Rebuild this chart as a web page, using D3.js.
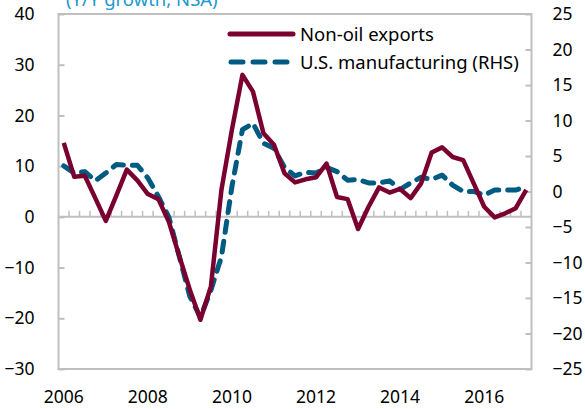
<!DOCTYPE html>
<html><head><meta charset="utf-8">
<script src="https://cdn.jsdelivr.net/npm/d3@7"></script>
<style>
html,body{margin:0;padding:0;background:#fff;}
text{font-family:"Noto Sans",sans-serif;}
</style></head>
<body><svg id="c" width="585" height="409"></svg>
<script>
// Quarterly categories 2006Q1 .. 2017Q1
const quarters = [];
for (let y = 2006; y <= 2017; y++) for (let q = 1; q <= 4; q++) { if (y === 2017 && q > 1) break; quarters.push(y + "Q" + q); }
const yearLabels = ["2006","2008","2010","2012","2014","2016"];
const leftTicks = [40,30,20,10,0,-10,-20,-30];
const rightTicks = [25,20,15,10,5,0,-5,-10,-15,-20,-25];
const nonOilExports = [14.6,7.9,8.1,3.7,-0.8,4.2,9.3,7.2,4.5,3.5,-1.0,-7.8,-14.4,-20.3,-13.7,5.3,17.2,28.0,24.7,16.5,14.2,8.6,6.8,7.4,7.8,10.5,3.9,3.5,-2.4,2.0,5.8,4.8,5.5,3.7,6.6,12.7,13.7,11.8,11.2,6.6,2.0,-0.1,0.7,1.7,5.3];
const usManufacturing = [3.6,2.6,2.8,1.5,2.6,3.8,3.7,3.7,1.9,-0.7,-3.6,-9.2,-14.8,-17.7,-13.9,-9.2,0.7,8.7,9.6,6.8,6.1,3.4,2.2,2.7,2.6,3.4,2.8,1.6,1.7,1.2,1.2,1.5,0.3,1.2,2.0,1.7,2.3,0.9,0.0,0.0,-0.5,0.2,0.2,0.2,0.7];
const seriesNames = ["Non-oil exports","U.S. manufacturing (RHS)"];
const titleText = "(Y/Y growth, NSA)";

const svg = d3.select("#c");
const L = 58.5, R = 531.5, T = 14, B = 369;
const x = d3.scalePoint().domain(quarters).range([L, R]).padding(0.5);
const yL = d3.scaleLinear().domain([-30, 40]).range([B, T]);
const yR = d3.scaleLinear().domain([-25, 25]).range([B, T]);
const gray = "#BFBFBF";
const red = "#7A0030", blue = "#005B82";

// title (cut at top, as in the source)
svg.append("text").attr("x", 66).attr("y", 6).attr("font-size", 18.5).attr("fill", "#2198CC").text(titleText);

// frame
svg.append("rect").attr("x", L).attr("y", T).attr("width", R - L).attr("height", B - T)
  .attr("fill", "none").attr("stroke", gray).attr("stroke-width", 2);

const gl = svg.append("g").attr("transform", `translate(${L},0)`)
  .call(d3.axisLeft(yL).tickValues(leftTicks).tickSize(-6).tickPadding(24).tickFormat(d3.format("d")));
const gr = svg.append("g").attr("transform", `translate(${R},0)`)
  .call(d3.axisRight(yR).tickValues(rightTicks).tickSize(-6).tickPadding(21).tickFormat(d3.format("d")));
[gl, gr].forEach(g => {
  g.select(".domain").remove();
  g.selectAll("line").attr("stroke", gray).attr("stroke-width", 2);
  g.selectAll("text").attr("font-size", 17.5).attr("fill", "#000").attr("font-family", "Noto Sans");
});

// zero line with category tick marks
const y0 = yL(0);
svg.append("line").attr("x1", L).attr("x2", R).attr("y1", y0).attr("y2", y0).attr("stroke", gray).attr("stroke-width", 2);
const step = x.step();
const bounds = d3.range(1, quarters.length).map(i => L + i * step);
svg.append("g").selectAll("line").data(bounds).join("line")
  .attr("x1", d => d).attr("x2", d => d).attr("y1", y0).attr("y2", y0 - 6)
  .attr("stroke", gray).attr("stroke-width", 1.5);

// x labels
svg.append("g").selectAll("text").data(yearLabels).join("text")
  .attr("x", d => x(d + "Q1")).attr("y", 403).attr("text-anchor", "middle")
  .attr("font-size", 17.5).attr("fill", "#000").text(d => d);

// lines
const lineR = d3.line().x((d, i) => x(quarters[i])).y(d => yL(d));
const lineB = d3.line().x((d, i) => x(quarters[i])).y(d => yR(d));
svg.append("path").datum(usManufacturing).attr("d", lineB).attr("fill", "none")
  .attr("stroke", blue).attr("stroke-width", 5).attr("stroke-dasharray", "11,9").attr("stroke-linecap", "round").attr("stroke-linejoin", "round");
svg.append("path").datum(nonOilExports).attr("d", lineR).attr("fill", "none")
  .attr("stroke", red).attr("stroke-width", 4.5).attr("stroke-linejoin", "round");

// legend
const lg = svg.append("g");
lg.append("line").attr("x1", 230).attr("x2", 293).attr("y1", 34).attr("y2", 34)
  .attr("stroke", red).attr("stroke-width", 5).attr("stroke-linecap", "round");
lg.append("line").attr("x1", 231).attr("x2", 293).attr("y1", 62).attr("y2", 62)
  .attr("stroke", blue).attr("stroke-width", 5).attr("stroke-linecap", "round").attr("stroke-dasharray", "12,10");
lg.append("text").attr("x", 300).attr("y", 41).attr("font-size", 18.5).text(seriesNames[0]);
lg.append("text").attr("x", 300).attr("y", 69).attr("font-size", 18.5).text(seriesNames[1]);
</script></body></html>
